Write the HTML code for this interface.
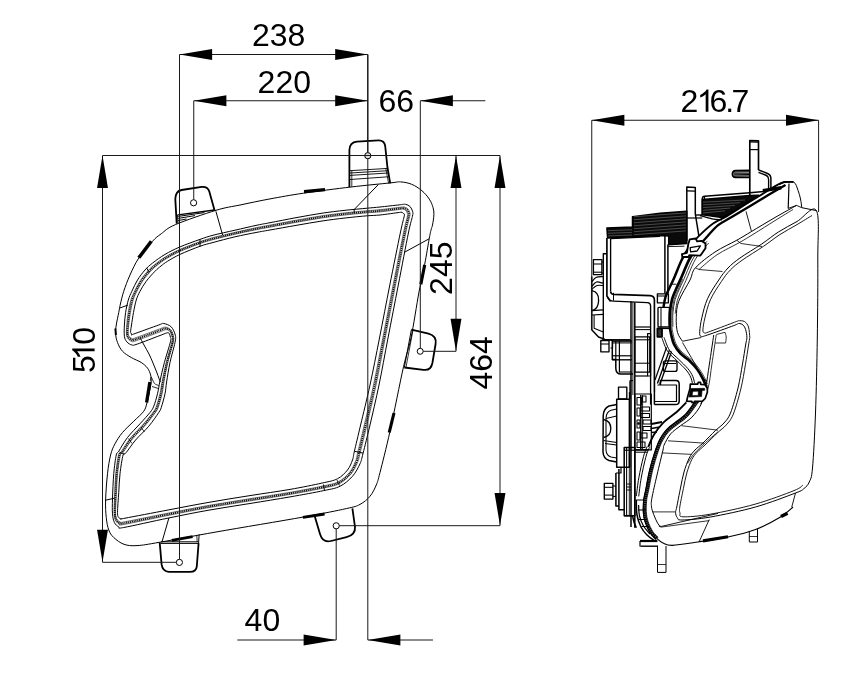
<!DOCTYPE html>
<html><head><meta charset="utf-8"><title>Headlamp dimensions</title>
<style>
html,body{margin:0;padding:0;background:#fff;}
body{width:864px;height:676px;overflow:hidden;}
svg{display:block;will-change:transform;}
text{font-family:"Liberation Sans",sans-serif;fill:#000;}
</style></head><body>
<svg width="864" height="676" viewBox="0 0 864 676" stroke-linecap="butt" stroke-linejoin="round">
<rect width="864" height="676" fill="#fff"/>
<path d="M175.4 224.6C166.28 228.51 165.07 230.97 161.25 233.75C157.43 236.53 156.25 237.19 152.5 241.25C148.75 245.31 142.5 252.48 138.75 258.1C135 263.73 132.5 269.48 130 275C127.5 280.52 125.35 286.42 123.75 291.25C122.15 296.08 121.23 300.46 120.4 304C119.57 307.54 119.44 309 118.75 312.5C118.06 316 116.78 321.46 116.25 325C115.72 328.54 115.39 330.83 115.6 333.75C115.81 336.67 116.35 339.58 117.5 342.5C118.65 345.42 120.21 348.75 122.5 351.25C124.79 353.75 128.12 355.62 131.25 357.5C134.38 359.38 138.54 360.73 141.25 362.5C143.96 364.27 145.94 366.02 147.5 368.1C149.06 370.18 150 372.6 150.6 375C151.2 377.4 151.37 379.33 151.1 382.5C150.83 385.67 149.7 390.57 149 394C148.3 397.43 147.78 400.23 146.9 403.1C146.03 405.98 145.94 408.23 143.75 411.25C141.56 414.27 137.29 417.71 133.75 421.25C130.21 424.79 125.62 428.75 122.5 432.5C119.38 436.25 116.98 440 115 443.75C113.02 447.5 111.85 450 110.6 455C109.35 460 108.33 466.25 107.5 473.75C106.67 481.25 105.81 492.71 105.6 500C105.39 507.29 105.72 512.5 106.25 517.5C106.78 522.5 107.5 526.67 108.75 530C110 533.33 111.21 535.12 113.75 537.5C116.29 539.88 120.12 542.95 124 544.3C127.88 545.65 131 545.95 137 545.6C143 545.25 146.83 544.47 160 542.2C173.17 539.93 192.08 536.2 216 532C239.92 527.8 281.79 520.9 303.5 517C325.21 513.1 336.83 510.7 346.25 508.6C355.67 506.5 356.04 506.46 360 504.4C363.96 502.34 367.29 499.48 370 496.25C372.71 493.02 374.58 488.96 376.25 485C377.92 481.04 377.71 481.46 380 472.5C382.29 463.54 386.08 448.87 390 431.25C393.92 413.63 400 382.34 403.5 366.8C407 351.26 408.42 350.47 411 338C413.58 325.53 416.72 304.28 419 292C421.28 279.72 423 273.17 424.7 264.3C426.4 255.43 428.15 244.52 429.2 238.8C430.25 233.08 430.45 232.3 431 230C431.55 227.7 432.02 227.53 432.5 225C432.98 222.47 433.82 217.73 433.9 214.8C433.98 211.87 433.77 210.02 433 207.4C432.23 204.78 431.15 201.88 429.3 199.1C427.45 196.32 424.83 193.17 421.9 190.7C418.97 188.23 415.25 185.77 411.7 184.3C408.15 182.83 404.15 182.13 400.6 181.9C397.05 181.67 398.67 182.05 390.4 182.9C382.13 183.75 365.48 185.28 351 187C336.52 188.72 317 191.22 303.5 193.2C290 195.18 280.58 196.93 270 198.9C259.42 200.87 249 203.1 240 205C231 206.9 226.77 207.03 216 210.3C205.23 213.57 184.53 220.69 175.4 224.6Z" fill="none" stroke="#000" stroke-width="1" />
<path d="M180 246.9C185.83 244.4 194.5 241.34 200 239.4C205.5 237.46 207.17 236.78 213 235.25C218.83 233.72 227.83 231.84 235 230.2C242.17 228.56 250.17 226.65 256 225.4C261.83 224.15 263.33 223.98 270 222.7C276.67 221.42 287.33 219.28 296 217.7C304.67 216.12 313.83 214.43 322 213.2C330.17 211.97 337.47 211.13 345 210.3C352.53 209.47 361.37 208.75 367.2 208.2C373.03 207.65 374.68 207.55 380 207C385.32 206.45 394.85 205.35 399.1 204.9C403.35 204.45 403.67 204.02 405.5 204.3C407.33 204.58 408.9 205.35 410.1 206.6C411.3 207.85 412.32 210.17 412.7 211.8C413.08 213.43 413.12 212.87 412.4 216.4C411.68 219.93 410.75 221.57 408.4 233C406.05 244.43 401.7 267.5 398.3 285C394.9 302.5 391.22 321.33 388 338C384.78 354.67 382 370.5 379 385C376 399.5 372.65 413.65 370 425C367.35 436.35 364.77 446.64 363.1 453.1C361.43 459.56 361.77 459.89 360 463.75C358.23 467.61 355.83 472.5 352.5 476.25C349.17 480 344.79 483.86 340 486.25C335.21 488.64 332.08 488.83 323.75 490.6C315.42 492.38 302.29 494.75 290 496.9C277.71 499.05 263.67 501.27 250 503.5C236.33 505.73 221.65 507.87 208 510.3C194.35 512.73 182.14 515.23 168.1 518.1C154.06 520.97 131.97 526.03 123.75 527.5C115.53 528.97 120.31 527.73 118.75 526.9C117.19 526.07 115.44 524.69 114.4 522.5C113.36 520.31 112.82 517.71 112.5 513.75C112.18 509.79 112.29 505.42 112.5 498.75C112.71 492.08 113.12 481.04 113.75 473.75C114.38 466.46 115.42 458.75 116.25 455C117.08 451.25 116.88 454.17 118.75 451.25C120.62 448.33 123.96 442.08 127.5 437.5C131.04 432.92 136.25 427.92 140 423.75C143.75 419.58 147.71 415.42 150 412.5C152.29 409.58 152.5 409.38 153.75 406.25C155 403.12 156.46 397.96 157.5 393.75C158.54 389.54 158.85 386.21 160 381C161.15 375.79 162.63 369.12 164.4 362.5C166.17 355.88 169.62 345.5 170.6 341.25C171.58 337 170.48 338.21 170.3 337C170.12 335.79 169.97 334.71 169.5 334C169.03 333.29 169.08 332.5 167.5 332.75C165.92 333 165 333.62 160 335.5C155 337.38 142.18 342.42 137.5 344C132.82 345.58 133.67 345.35 131.9 345C130.13 344.65 128.15 343.36 126.9 341.9C125.65 340.44 124.82 339.07 124.4 336.25C123.98 333.43 124.2 328.96 124.4 325C124.6 321.04 124.95 316.67 125.6 312.5C126.25 308.33 127.25 303.54 128.3 300C129.35 296.46 130.37 294.58 131.9 291.25C133.43 287.92 135.32 283.54 137.5 280C139.68 276.46 142.5 272.82 145 270C147.5 267.18 149.17 265.7 152.5 263.1C155.83 260.5 160.42 257.1 165 254.4C169.58 251.7 174.17 249.4 180 246.9Z" fill="none" stroke="#000" stroke-width="1" />
<path d="M180 254.4C185.42 251.9 194.5 248.23 200 246.25C205.5 244.27 207.17 244.07 213 242.5C218.83 240.93 227.83 238.47 235 236.8C242.17 235.13 250.17 233.63 256 232.5C261.83 231.37 263.33 231.18 270 230C276.67 228.82 287.33 226.9 296 225.4C304.67 223.9 313.83 222.23 322 221C330.17 219.77 337.47 218.87 345 218C352.53 217.13 361.37 216.3 367.2 215.8C373.03 215.3 374.58 215.57 380 215C385.42 214.43 396.12 212.83 399.7 212.4C403.28 211.97 400.97 212.32 401.5 212.4C402.03 212.48 402.48 212.58 402.9 212.9C403.32 213.22 403.77 213.82 404 214.3C404.23 214.78 404.92 212.68 404.3 215.8C403.68 218.92 402.72 221.47 400.3 233C397.88 244.53 393.27 267.5 389.8 285C386.33 302.5 382.8 321.33 379.5 338C376.2 354.67 373.15 370.5 370 385C366.85 399.5 363.2 413.96 360.6 425C358 436.04 355.75 445.42 354.4 451.25C353.05 457.08 353.65 456.88 352.5 460C351.35 463.12 350 466.88 347.5 470C345 473.12 341.77 476.57 337.5 478.75C333.23 480.93 329.82 481.33 321.9 483.1C313.98 484.88 301.98 487.32 290 489.4C278.02 491.48 263.67 493.42 250 495.6C236.33 497.78 221.65 500.1 208 502.5C194.35 504.9 181.93 507.38 168.1 510C154.27 512.62 132.81 516.74 125 518.2C117.19 519.66 122.29 518.87 121.25 518.75C120.21 518.63 119.38 518.54 118.75 517.5C118.12 516.46 117.5 516.67 117.5 512.5C117.5 508.33 118.33 498.96 118.75 492.5C119.17 486.04 119.28 480 120 473.75C120.72 467.5 122.06 458.54 123.1 455C124.14 451.46 124.17 455 126.25 452.5C128.33 450 131.85 444.38 135.6 440C139.35 435.62 144.89 430.83 148.75 426.25C152.61 421.67 156.67 415.62 158.75 412.5C160.83 409.38 160.21 410.62 161.25 407.5C162.29 404.38 164.11 398 165 393.75C165.89 389.5 165.77 387.21 166.6 382C167.43 376.79 168.6 369.08 170 362.5C171.4 355.92 174.12 347.08 175 342.5C175.88 337.92 175.88 337.6 175.25 335C174.62 332.4 173.17 328.82 171.25 326.9C169.33 324.98 165.83 323.82 163.75 323.5C161.67 323.18 163.75 323.25 158.75 325C153.75 326.75 138.22 332.43 133.75 334C129.28 335.57 132.38 334.57 131.9 334.4C131.43 334.23 131.12 333.52 130.9 333C130.68 332.48 130.5 332.58 130.6 331.25C130.7 329.92 131.02 328.12 131.5 325C131.98 321.88 132.71 316.67 133.5 312.5C134.29 308.33 135.17 303.54 136.25 300C137.33 296.46 138.33 294.38 140 291.25C141.67 288.12 143.75 284.58 146.25 281.25C148.75 277.92 152.54 273.79 155 271.25C157.46 268.71 158.92 267.67 161 266C163.08 264.33 164.33 263.18 167.5 261.25C170.67 259.32 174.58 256.9 180 254.4Z" fill="none" stroke="#000" stroke-width="1" />
<path d="M180 249.38C185.7 246.88 194.5 243.62 200 241.66C205.5 239.71 207.17 239.19 213 237.64C218.83 236.1 227.83 234.03 235 232.38C242.17 230.73 250.17 228.95 256 227.74C261.83 226.53 263.33 226.36 270 225.11C276.67 223.86 287.33 221.8 296 220.24C304.67 218.69 313.83 217.01 322 215.77C330.17 214.54 337.47 213.69 345 212.84C352.53 212 361.37 211.24 367.2 210.71C373.03 210.17 374.65 210.2 380 209.64C385.35 209.08 395.27 207.82 399.3 207.38C403.33 206.93 402.78 206.76 404.18 206.97C405.58 207.19 406.78 207.74 407.72 208.68C408.67 209.62 409.5 211.37 409.83 212.62C410.16 213.88 410.41 212.81 409.73 216.2C409.04 219.6 408.1 221.53 405.73 233C403.35 244.47 398.92 267.5 395.5 285C392.07 302.5 388.44 321.33 385.19 338C381.95 354.67 379.08 370.5 376.03 385C372.98 399.5 369.53 413.75 366.9 425C364.26 436.25 361.79 446.24 360.23 452.49C358.67 458.74 359.09 458.9 357.52 462.51C355.96 466.13 353.91 470.64 350.85 474.19C347.79 477.73 343.79 481.45 339.18 483.77C334.56 486.1 331.34 486.35 323.14 488.12C314.94 489.9 302.19 492.3 290 494.42C277.81 496.55 263.67 498.68 250 500.89C236.33 503.11 221.65 505.3 208 507.73C194.35 510.15 182.07 512.64 168.1 515.43C154.13 518.21 132.25 522.97 124.16 524.43C116.07 525.89 120.96 524.81 119.58 524.21C118.19 523.61 116.74 522.66 115.84 520.85C114.93 519.04 114.36 517.36 114.15 513.34C113.94 509.31 114.29 503.29 114.56 496.69C114.84 490.09 115.15 480.7 115.81 473.75C116.47 466.8 117.61 458.68 118.51 455C119.41 451.32 119.28 454.44 121.22 451.66C123.17 448.88 126.56 442.84 130.17 438.32C133.78 433.81 139.1 428.88 142.89 424.57C146.67 420.27 150.66 415.49 152.89 412.5C155.11 409.51 155.04 409.79 156.22 406.66C157.41 403.54 158.98 397.97 159.97 393.75C160.97 389.53 161.13 386.54 162.18 381.33C163.22 376.12 164.6 369.11 166.25 362.5C167.89 355.89 171.1 346.02 172.05 341.66C173 337.3 172.26 338.01 171.93 336.34C171.6 334.67 171.02 332.76 170.08 331.66C169.13 330.55 168.01 329.63 166.26 329.7C164.51 329.76 164.59 330.2 159.59 332.04C154.59 333.87 140.88 339.12 136.26 340.7C131.65 342.28 133.24 341.79 131.9 341.5C130.56 341.21 129.13 340.11 128.22 338.96C127.31 337.81 126.69 336.93 126.45 334.6C126.2 332.27 126.45 328.68 126.74 325C127.04 321.32 127.51 316.67 128.21 312.5C128.9 308.33 129.86 303.54 130.92 300C131.98 296.46 133 294.51 134.57 291.25C136.15 287.99 138.1 283.89 140.39 280.41C142.68 276.94 145.81 273.14 148.3 270.41C150.79 267.69 152.38 266.35 155.31 264.06C158.23 261.76 161.71 259.11 165.82 256.66C169.94 254.21 174.3 251.88 180 249.38Z" fill="none" stroke="#000" stroke-width="0.55" />
<path d="M180 251.47C185.58 248.97 194.5 245.55 200 243.58C205.5 241.61 207.17 241.23 213 239.67C218.83 238.11 227.83 235.88 235 234.23C242.17 232.57 250.17 230.91 256 229.73C261.83 228.55 263.33 228.38 270 227.15C276.67 225.93 287.33 223.93 296 222.4C304.67 220.86 313.83 219.19 322 217.96C330.17 216.72 337.47 215.85 345 215C352.53 214.14 361.37 213.36 367.2 212.84C373.03 212.32 374.62 212.44 380 211.88C385.38 211.32 395.62 209.91 399.47 209.47C403.31 209.04 402.02 209.08 403.06 209.24C404.1 209.4 404.99 209.76 405.71 210.44C406.43 211.12 407.1 212.39 407.39 213.33C407.68 214.26 408.11 212.75 407.46 216.03C406.8 219.31 405.85 221.51 403.46 233C401.07 244.49 396.56 267.5 393.12 285C389.67 302.5 386.08 321.33 382.81 338C379.55 354.67 376.6 370.5 373.51 385C370.42 399.5 366.89 413.84 364.27 425C361.65 436.16 359.27 445.89 357.79 451.97C356.32 458.05 356.82 458.05 355.43 461.46C354.03 464.87 352.27 469.07 349.45 472.44C346.62 475.81 342.95 479.41 338.48 481.68C334 483.94 330.7 484.25 322.62 486.03C314.54 487.8 302.1 490.22 290 492.32C277.9 494.43 263.67 496.48 250 498.68C236.33 500.88 221.65 503.13 208 505.54C194.35 507.96 182.01 510.44 168.1 513.16C154.19 515.87 132.48 520.37 124.51 521.83C116.54 523.29 121.52 522.32 120.28 521.93C119.03 521.53 117.84 520.94 117.05 519.45C116.27 517.96 115.67 517.07 115.55 512.99C115.43 508.9 115.98 501.48 116.31 494.94C116.65 488.4 116.88 480.41 117.56 473.75C118.25 467.09 119.47 458.62 120.43 455C121.39 451.38 121.32 454.68 123.33 452.01C125.33 449.35 128.77 443.48 132.44 439.02C136.11 434.57 141.52 429.7 145.34 425.27C149.15 420.85 153.17 415.54 155.34 412.5C157.5 409.46 157.2 410.14 158.32 407.01C159.45 403.89 161.12 397.98 162.07 393.75C163.03 389.52 163.07 386.82 164.03 381.61C164.98 376.4 166.27 369.1 167.82 362.5C169.36 355.9 172.37 346.47 173.28 342.01C174.2 337.56 173.77 337.84 173.32 335.78C172.87 333.72 171.92 331.11 170.57 329.67C169.22 328.22 167.1 327.2 165.21 327.11C163.32 327.01 164.24 327.3 159.24 329.1C154.24 330.89 139.77 336.33 135.21 337.9C130.66 339.47 132.88 338.77 131.9 338.53C130.92 338.3 129.96 337.36 129.34 336.47C128.72 335.58 128.28 335.11 128.18 333.2C128.08 331.29 128.36 328.45 128.73 325C129.1 321.55 129.68 316.67 130.42 312.5C131.16 308.33 132.08 303.54 133.15 300C134.22 296.46 135.23 294.46 136.84 291.25C138.46 288.04 140.46 284.18 142.84 280.76C145.21 277.35 148.63 273.41 151.1 270.76C153.57 268.11 155.11 266.9 157.69 264.87C160.26 262.84 162.81 260.81 166.53 258.58C170.24 256.35 174.42 253.97 180 251.47Z" fill="none" stroke="#000" stroke-width="0.55" />
<path d="M180 250.43C185.64 247.93 194.5 244.58 200 242.62C205.5 240.66 207.17 240.21 213 238.66C218.83 237.1 227.83 234.96 235 233.3C242.17 231.65 250.17 229.93 256 228.74C261.83 227.54 263.33 227.37 270 226.13C276.67 224.89 287.33 222.86 296 221.32C304.67 219.77 313.83 218.1 322 216.87C330.17 215.63 337.47 214.77 345 213.92C352.53 213.07 361.37 212.3 367.2 211.77C373.03 211.25 374.64 211.32 380 210.76C385.36 210.2 395.45 208.87 399.38 208.43C403.32 207.98 402.4 207.92 403.62 208.11C404.84 208.3 405.88 208.75 406.72 209.56C407.55 210.37 408.3 211.88 408.61 212.98C408.92 214.07 409.26 212.78 408.59 216.12C407.92 219.46 406.97 221.52 404.59 233C402.21 244.48 397.74 267.5 394.31 285C390.87 302.5 387.26 321.33 384 338C380.75 354.67 377.84 370.5 374.77 385C371.7 399.5 368.21 413.79 365.58 425C362.96 436.21 360.53 446.07 359.01 452.23C357.49 458.4 357.95 458.47 356.48 461.99C355 465.5 353.09 469.86 350.15 473.31C347.21 476.77 343.37 480.43 338.82 482.73C334.28 485.02 331.02 485.3 322.88 487.08C314.74 488.85 302.15 491.26 290 493.38C277.85 495.49 263.67 497.58 250 499.79C236.33 502 221.65 504.22 208 506.63C194.35 509.05 182.04 511.54 168.1 514.29C154.16 517.04 132.37 521.67 124.34 523.13C116.31 524.59 121.24 523.57 119.92 523.07C118.61 522.57 117.29 521.8 116.44 520.15C115.6 518.5 115.02 517.22 114.85 513.16C114.68 509.11 115.13 502.38 115.44 495.81C115.74 489.24 116.02 480.55 116.69 473.75C117.36 466.95 118.54 458.65 119.47 455C120.4 451.35 120.3 454.56 122.28 451.84C124.25 449.12 127.67 443.16 131.31 438.68C134.95 434.19 140.31 429.29 144.11 424.93C147.91 420.56 151.92 415.51 154.11 412.5C156.31 409.49 156.12 409.96 157.28 406.84C158.43 403.71 160.05 397.98 161.03 393.75C162 389.52 162.1 386.68 163.1 381.47C164.1 376.26 165.44 369.11 167.03 362.5C168.63 355.89 171.74 346.24 172.67 341.84C173.6 337.43 173.02 337.92 172.63 336.06C172.24 334.2 171.47 331.94 170.32 330.66C169.17 329.39 167.56 328.42 165.74 328.4C163.92 328.39 164.41 328.75 159.41 330.56C154.41 332.38 140.32 337.72 135.74 339.3C131.15 340.88 133.06 340.28 131.9 340.02C130.74 339.75 129.54 338.74 128.78 337.72C128.02 336.7 127.49 336.02 127.31 333.9C127.14 331.78 127.4 328.57 127.74 325C128.07 321.43 128.6 316.67 129.31 312.5C130.03 308.33 130.97 303.54 132.04 300C133.1 296.46 134.11 294.49 135.71 291.25C137.3 288.01 139.28 284.03 141.61 280.59C143.94 277.14 147.22 273.27 149.7 270.59C152.18 267.9 153.75 266.62 156.5 264.46C159.24 262.3 162.26 259.96 166.18 257.62C170.09 255.28 174.36 252.93 180 250.43Z" fill="none" stroke="#111" stroke-width="1.9" stroke-dasharray="1.2 0.7"/>
<path d="M215.9 211.3L222.6 235" fill="none" stroke="#000" stroke-width="1" />
<path d="M378.3 184.6L354.2 209.5L354.2 213" fill="none" stroke="#000" stroke-width="1" />
<path d="M429.1 238.8L404.6 252.2" fill="none" stroke="#000" stroke-width="1" />
<path d="M119.6 308.1L127.9 305.1" fill="none" stroke="#000" stroke-width="1" />
<path d="M105.3 500.3L114.6 498.1" fill="none" stroke="#000" stroke-width="1" />
<path d="M168.9 518L162 541.8" fill="none" stroke="#000" stroke-width="1" />
<path d="M200 239.5L200 246.8" fill="none" stroke="#000" stroke-width="1" />
<path d="M146.5 267.8L148.8 271.8" fill="none" stroke="#000" stroke-width="1" />
<path d="M323.5 484.5L324.5 491" fill="none" stroke="#000" stroke-width="1" />
<path d="M354.4 451.25L363.1 453.1" fill="none" stroke="#000" stroke-width="1" />
<path d="M337 480L339.5 485.5" fill="none" stroke="#000" stroke-width="0.8" />
<path d="M140 337.5C140.67 338.75 142.5 342.25 144 345C145.5 347.75 147.5 351 149 354C150.5 357 151.67 359.83 153 363C154.33 366.17 155.78 369.83 157 373C158.22 376.17 159.75 380.5 160.3 382" fill="none" stroke="#000" stroke-width="1" />
<path d="M150.3 381C150.45 380.33 150.5 376.58 151.2 377C151.9 377.42 153.2 382.08 154.5 383.5C155.8 384.92 158.25 385.17 159 385.5" fill="none" stroke="#000" stroke-width="0.8" />
<path d="M152 386.5L158.5 388.5" fill="none" stroke="#000" stroke-width="0.8" />
<path d="M141.5 428L144.5 432" fill="none" stroke="#000" stroke-width="0.8" />
<path d="M128.5 438.5L132 443.5" fill="none" stroke="#000" stroke-width="0.8" />
<path d="M119.5 452L124.5 454.5" fill="none" stroke="#000" stroke-width="0.8" />
<path d="M138.8 257.8L151.3 241.2" fill="none" stroke="#000" stroke-width="3.5" />
<path d="M304 191.6L325 189.6" fill="none" stroke="#000" stroke-width="3.1" />
<path d="M424.7 264.9L420.8 284.4" fill="none" stroke="#000" stroke-width="3.1" />
<path d="M394 413L389.2 432.5" fill="none" stroke="#000" stroke-width="3.1" />
<path d="M149.9 382L146.6 402.5" fill="none" stroke="#000" stroke-width="3.3" />
<path d="M302.9 517.4L324.6 514" fill="none" stroke="#000" stroke-width="2.9" />
<path d="M171.8 540.4L192.6 536.7" fill="none" stroke="#000" stroke-width="2.8" />
<path d="M115.4 328.5L115.9 335" fill="none" stroke="#000" stroke-width="2" />
<path d="M176.7 223.6L175.3 199.1Q175.5 191.2 181.5 190L201.7 186.9Q207.8 186.4 209.3 191.5L214.6 210.6" fill="none" stroke="#000" stroke-width="1.8" />
<path d="M178.1 214.8L214.6 210" fill="none" stroke="#000" stroke-width="1.3" />
<path d="M178.3 216.4L204.4 212.6" fill="none" stroke="#000" stroke-width="1" />
<path d="M178.3 218.4L195 215.6" fill="none" stroke="#000" stroke-width="1" />
<path d="M178.2 220.6L186.5 219" fill="none" stroke="#000" stroke-width="1" />
<path d="M177.6 214.5L178 223" fill="none" stroke="#000" stroke-width="1" />
<circle cx="193.6" cy="202.8" r="3.1" fill="#fff" stroke="#000" stroke-width="1"/>
<path d="M349.4 187L349.4 150Q349.6 142.2 356.9 141.6L378.5 140.4Q384.3 140.3 385.2 146L387.4 167L390.2 183.3" fill="none" stroke="#000" stroke-width="1.8" />
<path d="M350 170.7L388 168.4" fill="none" stroke="#000" stroke-width="0.9" />
<path d="M350 173L388 170.7" fill="none" stroke="#000" stroke-width="0.9" />
<path d="M350 175.4L388 173" fill="none" stroke="#000" stroke-width="0.9" />
<path d="M350 179.5L388 176.8" fill="none" stroke="#000" stroke-width="0.9" />
<path d="M351.8 170.5L351.8 186.6" fill="none" stroke="#000" stroke-width="0.8" />
<path d="M385.8 168.6L388.6 183.4" fill="none" stroke="#000" stroke-width="0.8" />
<circle cx="367.8" cy="155.7" r="3.1" fill="#ddd" stroke="#000" stroke-width="1"/>
<path d="M411.4 329.6L428.5 333.7Q436.9 336 435.6 344L432.4 363Q430.8 371 423.5 369.8L404.3 367.5" fill="none" stroke="#000" stroke-width="1.8" />
<path d="M411.4 329.6L404.3 367.5" fill="none" stroke="#000" stroke-width="1" />
<path d="M412.9 330.6L406 367.2" fill="none" stroke="#000" stroke-width="0.8" />
<circle cx="420.2" cy="351.3" r="3" fill="#fff" stroke="#000" stroke-width="1"/>
<path d="M159.7 542.7L161.6 564.4Q162.5 571.5 169 571.9L189.8 571.9Q196.3 571.6 196.8 566.3L198.6 543.1" fill="none" stroke="#000" stroke-width="1.8" />
<path d="M198.6 543.1L199.1 534.4" fill="none" stroke="#000" stroke-width="1" />
<path d="M197.2 542L196.8 535.6" fill="none" stroke="#000" stroke-width="0.8" />
<path d="M161 541.8L198.3 541.8" fill="none" stroke="#000" stroke-width="1" />
<path d="M160.5 543.4L198.5 543.4" fill="none" stroke="#000" stroke-width="1" />
<circle cx="179.4" cy="562.4" r="3.1" fill="#fff" stroke="#000" stroke-width="1"/>
<path d="M314.9 516.8L320 534Q322.8 543.2 331 541L346.5 537.2Q355.6 534.8 355 527L352.4 508.4" fill="none" stroke="#000" stroke-width="1.8" />
<circle cx="336.2" cy="525.8" r="3.1" fill="#fff" stroke="#000" stroke-width="1"/>
<path d="M816.4 210.6C812.93 204.18 803.33 217.93 797 221.5C790.67 225.07 784.27 228.25 778.4 232C772.52 235.75 768.15 239.67 761.75 244C755.35 248.33 745.62 254 740 258C734.38 262 731.54 264.33 728 268C724.46 271.67 722.17 274.88 718.75 280C715.33 285.12 710.31 292.5 707.5 298.75C704.69 305 703.19 312.08 701.9 317.5C700.61 322.92 699.93 328.12 699.75 331.25C699.57 334.38 699.51 335.68 700.8 336.3C702.09 336.93 702.01 336.78 707.5 335C712.99 333.22 728.54 327.52 733.75 325.6C738.96 323.68 737.21 323.6 738.75 323.5C740.29 323.4 741.86 324 743 325C744.14 326 744.95 327.42 745.6 329.5C746.25 331.58 746.9 334.92 746.9 337.5C746.9 340.08 746.33 340.58 745.6 345C744.87 349.42 743.77 356.83 742.5 364C741.23 371.17 740 379.83 738 388C736 396.17 732.83 407.17 730.5 413C728.17 418.83 726.5 420.08 724 423C721.5 425.92 719 427.17 715.5 430.5C712 433.83 706.42 439.75 703 443C699.58 446.25 697.29 447.5 695 450C692.71 452.5 691.08 454.33 689.25 458C687.42 461.67 685.46 467 684 472C682.54 477 681.71 482.17 680.5 488C679.29 493.83 677.57 502.92 676.75 507C675.93 511.08 675.52 510.75 675.6 512.5C675.68 514.25 676.13 516.25 677.2 517.5C678.27 518.75 676.45 520.08 682 520C687.55 519.92 698.25 519.17 710.5 517C722.75 514.83 741.33 511 755.5 507C769.67 503 787.42 496.08 795.5 493C803.58 489.92 801.71 490.33 804 488.5C806.29 486.67 807.83 485.42 809.25 482C810.67 478.58 811.46 479.5 812.5 468C813.54 456.5 814.7 434.67 815.5 413C816.3 391.33 816.92 363.5 817.3 338C817.68 312.5 817.95 281.23 817.8 260C817.65 238.77 819.87 217.02 816.4 210.6Z" fill="none" stroke="#000" stroke-width="1" />
<path d="M812 215.5C809.5 217.02 802.33 221.43 797 224.6C791.67 227.77 785.58 230.88 780 234.5C774.42 238.12 769.83 242 763.5 246.3C757.17 250.6 747.53 256.35 742 260.3C736.47 264.25 733.73 266.47 730.3 270C726.87 273.53 724.72 276.53 721.4 281.5C718.08 286.47 713.15 293.72 710.4 299.8C707.65 305.88 706.15 312.97 704.9 318C703.65 323.03 702.97 327.52 702.9 330C702.83 332.48 703.57 332.57 704.5 332.9C705.43 333.23 703.75 333.68 708.5 332C713.25 330.32 728 324.68 733 322.8C738 320.92 737.58 321.05 738.5 320.7" fill="none" stroke="#000" stroke-width="0.9" />
<path d="M749.8 337.5C749.57 338.92 749.13 341.45 748.4 346C747.67 350.55 746.67 357.63 745.4 364.8C744.13 371.97 742.83 380.73 740.8 389C738.77 397.27 735.67 408.37 733.2 414.4C730.73 420.43 728.62 422.13 726 425.2C723.38 428.27 721 429.5 717.5 432.8C714 436.1 708.37 441.8 705 445C701.63 448.2 699.5 449.58 697.3 452C695.1 454.42 693.55 456 691.8 459.5C690.05 463 688.2 468.15 686.8 473C685.4 477.85 684.57 482.93 683.4 488.6C682.23 494.27 680.37 502.93 679.8 507C679.23 511.07 679.47 511.37 680 513C680.53 514.63 677.95 516.6 683 516.8C688.05 517 698.3 516.3 710.3 514.2C722.3 512.1 741.05 508.13 755 504.2C768.95 500.27 786 493.8 794 490.6C802 487.4 801.5 485.93 803 485" fill="none" stroke="#000" stroke-width="0.9" />
<path d="M738.5 320.7C739.5 320.83 742.83 320.45 744.5 321.5C746.17 322.55 747.62 324.33 748.5 327C749.38 329.67 749.58 335.75 749.8 337.5" fill="none" stroke="#000" stroke-width="0.9" />
<path d="M796.5 205.4C792.92 207.42 782.5 213.15 775 217.5C767.5 221.85 757.88 227.71 751.5 231.5C745.12 235.29 742.83 236.83 736.75 240.25C730.67 243.67 721.88 247.42 715 252C708.12 256.58 699.67 263.08 695.5 267.75C691.33 272.42 692.79 274.42 690 280C687.21 285.58 681.04 295 678.75 301.25C676.46 307.5 676.46 312.29 676.25 317.5C676.04 322.71 676.46 328.54 677.5 332.5C678.54 336.46 681.67 339.79 682.5 341.25" fill="none" stroke="#000" stroke-width="1" />
<path d="M793 209.5C790 211.35 781.5 216.55 775 220.6C768.5 224.65 760 230.1 754 233.8C748 237.5 745.17 239.3 739 242.8C732.83 246.3 723.67 250.35 717 254.8C710.33 259.25 702 267.05 699 269.5" fill="none" stroke="#000" stroke-width="0.8" />
<path d="M699 269.5L722.5 271.5" fill="none" stroke="#000" stroke-width="0.8" />
<path d="M695.5 267.75L699 269.5" fill="none" stroke="#000" stroke-width="0.8" />
<path d="M736.75 240.25L741 243.5L762 246.5" fill="none" stroke="#000" stroke-width="0.8" />
<path d="M751.5 231.5L746 211.4" fill="none" stroke="#000" stroke-width="0.9" />
<path d="M789 183.5L788.2 208.4" fill="none" stroke="#000" stroke-width="1.2" />
<path d="M788.2 208.4L796.5 205.4L801.8 207.7" fill="none" stroke="#000" stroke-width="0.9" />
<path d="M801.8 207.7L816.4 210.6" fill="none" stroke="#000" stroke-width="1" />
<path d="M713.75 335C713.02 339.83 710.76 355.17 709.4 364C708.04 372.83 706.98 381.28 705.6 388C704.22 394.72 703.38 399.43 701.1 404.3C698.82 409.17 695.3 413.65 691.9 417.2C688.5 420.75 684.25 422.82 680.7 425.6C677.15 428.38 673.37 430.67 670.6 433.9C667.83 437.13 665.37 442.32 664.1 445C662.83 447.68 664.18 445 663 450C661.82 455 658.85 466.98 657 475C655.15 483.02 652.83 493 651.9 498.1C650.97 503.2 651.25 503.28 651.4 505.6C651.55 507.92 651.87 509.27 652.8 512C653.73 514.73 655.72 519.5 657 522C658.28 524.5 659.92 526.17 660.5 527" fill="none" stroke="#000" stroke-width="1" />
<path d="M716.2 335C715.48 339.83 713.27 355.07 711.9 364C710.53 372.93 709.92 381.87 708 388.6C706.08 395.33 701.67 401.77 700.4 404.4" fill="none" stroke="#000" stroke-width="0.8" />
<path d="M716.25 334.5L725 332.3" fill="none" stroke="#000" stroke-width="0.8" />
<path d="M725 332.3C725.2 333.08 726.1 335.22 726.2 337C726.3 338.78 725.7 342 725.6 343" fill="none" stroke="#000" stroke-width="0.8" />
<path d="M725.6 343L715.3 343" fill="none" stroke="#000" stroke-width="0.8" />
<path d="M682.5 341.25L701.25 337.5" fill="none" stroke="#000" stroke-width="0.9" />
<path d="M682.5 342.5C683.42 344.08 685.92 348.42 688 352C690.08 355.58 692.75 359.83 695 364C697.25 368.17 699.47 374.17 701.5 377C703.53 379.83 706.25 380.33 707.2 381" fill="none" stroke="#000" stroke-width="0.9" />
<path d="M681.5 425.7L718 430.2" fill="none" stroke="#000" stroke-width="0.8" />
<path d="M668 440.8L704.1 443.1" fill="none" stroke="#000" stroke-width="0.8" />
<path d="M661.9 452.9L692.1 454.4" fill="none" stroke="#000" stroke-width="0.8" />
<path d="M718 431.8C715.68 433.8 708.17 440.03 704.1 443.8C700.03 447.57 696.37 451.13 693.6 454.4C690.83 457.67 688.52 461.9 687.5 463.4" fill="none" stroke="#000" stroke-width="0.8" />
<path d="M652.9 511.9L675.5 511.9" fill="none" stroke="#000" stroke-width="0.8" />
<path d="M658.9 526.3L661.9 526.3L718 513.4" fill="none" stroke="#000" stroke-width="0.9" />
<path d="M660.5 527.2L709.25 520.6" fill="none" stroke="#000" stroke-width="0.8" />
<path d="M709.25 519.5L699.25 541.5" fill="none" stroke="#000" stroke-width="0.9" />
<path d="M795.5 493L791.75 507" fill="none" stroke="#000" stroke-width="0.9" />
<path d="M651.3 532.3C652.25 533.35 655.05 536.82 657 538.6C658.95 540.38 660.42 541.88 663 543C665.58 544.12 666.67 545.47 672.5 545.3C678.33 545.13 688.75 543.38 698 542C707.25 540.62 718.42 539.08 728 537C737.58 534.92 746.75 532.83 755.5 529.5C764.25 526.17 774.25 520.75 780.5 517C786.75 513.25 790.92 508.67 793 507" fill="none" stroke="#000" stroke-width="1.2" />
<path d="M703 540.9L728 536.7" fill="none" stroke="#000" stroke-width="3.1" />
<path d="M781 516.5L787.5 513.2" fill="none" stroke="#000" stroke-width="3.5" />
<path d="M657.5 545.5L657.5 572.4L666 572.4L666 546" fill="none" stroke="#000" stroke-width="1" />
<path d="M657.5 564.5L666 564.5" fill="none" stroke="#000" stroke-width="0.8" />
<path d="M749.3 531L749.3 542L757.5 542L757.5 528.8" fill="none" stroke="#000" stroke-width="1" />
<path d="M749.3 536.5L757.5 536.5" fill="none" stroke="#000" stroke-width="0.8" />
<path d="M640 541L657.4 541" fill="none" stroke="#000" stroke-width="2.2" />
<path d="M640.5 546.2L657.4 546.2" fill="none" stroke="#000" stroke-width="1.4" />
<path d="M640 541L640 546.5" fill="none" stroke="#000" stroke-width="1.2" />
<path d="M793.5 182C791.48 182.13 786.23 181 781.4 182.8C776.57 184.6 770.5 189.18 764.5 192.8C758.5 196.42 751.65 200.62 745.4 204.5C739.15 208.38 732.38 212.93 727 216.1C721.62 219.27 717.72 220.25 713.1 223.5C708.48 226.75 703.15 231.85 699.3 235.6C695.45 239.35 691.55 244.27 690 246" fill="none" stroke="#000" stroke-width="1.8" />
<path d="M690 246C688.63 248.3 684.47 254.42 681.8 259.8C679.13 265.18 676.07 273.6 674 278.3C671.93 283 670.82 284.88 669.4 288C667.98 291.12 666.48 293.83 665.5 297C664.52 300.17 663.83 305.33 663.5 307" fill="none" stroke="#000" stroke-width="2.5" />
<path d="M670.2 284.2L676.5 284.2" fill="none" stroke="#000" stroke-width="0.9" />
<path d="M661.99 338.23C662.92 340.41 665.08 347.55 667.58 351.31C670.09 355.07 673.93 357.66 677.02 360.78C680.12 363.89 683.87 367.27 686.15 370C688.44 372.74 689.66 374.94 690.7 377.17C691.75 379.4 692.15 382.36 692.44 383.4" fill="none" stroke="#000" stroke-width="1" />
<path d="M664.01 337.37C664.91 339.49 666.99 346.45 669.42 350.09C671.84 353.73 675.51 356.14 678.58 359.22C681.65 362.31 685.49 365.76 687.85 368.6C690.2 371.43 691.58 373.86 692.7 376.23C693.81 378.6 694.25 381.71 694.56 382.8" fill="none" stroke="#000" stroke-width="1" />
<path d="M686.3 402.4C684.75 403.95 680.87 408.3 677 411.7C673.13 415.1 666.95 418.95 663.1 422.8C659.25 426.65 656.37 430.78 653.9 434.8C651.43 438.82 649.23 444.88 648.3 446.9" fill="none" stroke="#000" stroke-width="1.9" />
<path d="M647.17 446.49C646.55 448.19 644.83 451.47 643.44 456.69C642.05 461.91 640.01 471.21 638.82 477.79C637.63 484.36 636.73 493.08 636.31 496.14" fill="none" stroke="#000" stroke-width="1" />
<path d="M649.43 447.31C648.82 448.98 647.13 452.16 645.76 457.31C644.39 462.46 642.36 471.69 641.18 478.21C640 484.74 639.1 493.42 638.69 496.46" fill="none" stroke="#000" stroke-width="1" />
<path d="M636.1 500L645.5 500" fill="none" stroke="#000" stroke-width="1" />
<path d="M785.5 185C782.7 186.63 774.58 191.32 768.7 194.8C762.82 198.28 756.37 202.2 750.2 205.9C744.03 209.6 737.1 213.75 731.7 217C726.3 220.25 722.28 221.68 717.8 225.4C713.32 229.12 708.43 235.37 704.8 239.3C701.17 243.23 697.47 247.38 696 249" fill="none" stroke="#000" stroke-width="2.3" />
<path d="M696 249C694.83 250.8 691.5 254.92 689 259.8C686.5 264.68 683 273.77 681 278.3C679 282.83 678.47 283.57 677 287C675.53 290.43 673.38 294.6 672.2 298.9C671.02 303.2 670.28 308.17 669.9 312.8C669.52 317.43 669.67 323 669.9 326.7C670.13 330.4 670.6 332.07 671.3 335C672 337.93 672.55 341.22 674.1 344.3C675.65 347.38 677.98 350.73 680.6 353.5C683.22 356.27 687.03 358.27 689.8 360.9C692.57 363.53 695.03 366.37 697.2 369.3C699.37 372.23 701.4 375.88 702.8 378.5C704.2 381.12 705.13 383.92 705.6 385" fill="none" stroke="#000" stroke-width="2.7" />
<path d="M705.6 385C705.42 386.08 706.17 388.45 704.5 391.5C702.83 394.55 698.63 399.32 695.6 403.3C692.57 407.28 689.4 412.15 686.3 415.4C683.2 418.65 680.08 420.33 677 422.8C673.92 425.27 670.42 427.43 667.8 430.2C665.18 432.97 663.15 436 661.3 439.4C659.45 442.8 658.42 445.5 656.7 450.6C654.98 455.7 652.62 463.43 651 470C649.38 476.57 648 485 647 490C646 495 645.4 496.33 645 500C644.6 503.67 644.35 508.33 644.6 512C644.85 515.67 645.38 518.62 646.5 522C647.62 525.38 649.55 529.53 651.3 532.3C653.05 535.07 656.05 537.55 657 538.6" fill="none" stroke="#666" stroke-width="3.2" />
<path d="M705.6 385C705.42 386.08 706.17 388.45 704.5 391.5C702.83 394.55 698.63 399.32 695.6 403.3C692.57 407.28 689.4 412.15 686.3 415.4C683.2 418.65 680.08 420.33 677 422.8C673.92 425.27 670.42 427.43 667.8 430.2C665.18 432.97 663.15 436 661.3 439.4C659.45 442.8 658.42 445.5 656.7 450.6C654.98 455.7 652.62 463.43 651 470C649.38 476.57 648 485 647 490C646 495 645.4 496.33 645 500C644.6 503.67 644.35 508.33 644.6 512C644.85 515.67 645.38 518.62 646.5 522C647.62 525.38 649.55 529.53 651.3 532.3C653.05 535.07 656.05 537.55 657 538.6" fill="none" stroke="#000" stroke-width="3.2" stroke-dasharray="1.4 0.7"/>
<path d="M704.32 384.78C704.16 385.8 704.98 387.92 703.36 390.88C701.73 393.83 697.57 398.57 694.57 402.51C691.57 406.45 688.42 411.29 685.36 414.5C682.3 417.71 679.27 419.32 676.19 421.78C673.1 424.25 669.53 426.47 666.86 429.31C664.18 432.14 662.06 435.3 660.16 438.78C658.26 442.26 657.2 445.03 655.47 450.19C653.73 455.34 651.36 463.1 649.74 469.69C648.11 476.28 646.73 484.72 645.73 489.75C644.72 494.77 644.11 496.14 643.71 499.86C643.3 503.58 643.04 508.33 643.3 512.09C643.56 515.85 644.12 518.92 645.27 522.41C646.42 525.89 648.41 530.15 650.2 532.99C652 535.84 655.06 538.39 656.04 539.47" fill="none" stroke="#000" stroke-width="1.2" />
<path d="M707.28 385.28C707.06 386.46 707.71 389.14 705.99 392.32C704.27 395.49 700.03 400.29 696.95 404.33C693.88 408.37 690.68 413.27 687.53 416.57C684.38 419.87 681.14 421.66 678.06 424.13C674.98 426.59 671.58 428.69 669.04 431.37C666.49 434.05 664.58 436.92 662.79 440.21C661.01 443.51 660 446.11 658.31 451.14C656.62 456.17 654.26 463.87 652.65 470.41C651.04 476.94 649.66 485.37 648.67 490.33C647.67 495.3 647.09 496.59 646.69 500.18C646.29 503.78 646.06 508.34 646.3 511.88C646.53 515.43 647.04 518.22 648.11 521.47C649.19 524.72 651.05 528.73 652.74 531.39C654.43 534.06 657.34 536.45 658.26 537.46" fill="none" stroke="#000" stroke-width="0.7" />
<path d="M682.82 279.14C682.15 280.58 680.29 284.4 678.84 287.79C677.39 291.17 675.29 295.23 674.13 299.43C672.97 303.63 672.27 308.44 671.89 312.96C671.52 317.49 671.67 322.98 671.9 326.57C672.12 330.17 672.58 331.73 673.25 334.54C673.91 337.34 674.42 340.47 675.89 343.4C677.35 346.33 679.5 349.45 682.05 352.13C684.6 354.8 688.39 356.79 691.18 359.45C693.97 362.12 696.58 365.09 698.81 368.11C701.04 371.13 703.13 374.87 704.56 377.56C706 380.24 706.96 383.1 707.44 384.21" fill="none" stroke="#000" stroke-width="0.7" />
<path d="M707.02 241.32C705.58 242.9 700.93 247.52 698.38 250.83C695.82 254.14 694.11 256.39 691.67 261.17C689.23 265.95 685.73 275.01 683.74 279.51C681.76 284.01 681.2 284.81 679.76 288.18C678.32 291.54 676.24 295.55 675.09 299.7C673.95 303.84 673.26 308.55 672.89 313.05C672.52 317.55 672.9 324.42 672.9 326.7" fill="none" stroke="#000" stroke-width="0.8" />
<path d="M708.8 242.93C707.38 244.49 702.78 249.07 700.28 252.3C697.78 255.52 696.2 257.56 693.81 262.26C691.42 266.96 687.91 276 685.94 280.48C683.97 284.96 683.39 285.81 681.97 289.12C680.54 292.43 678.53 296.24 677.41 300.33C676.28 304.43 675.59 311.46 675.23 313.68" fill="none" stroke="#000" stroke-width="0.8" />
<path d="M781.4 182.8C783.42 182.67 790.73 180.75 793.5 182C796.27 183.25 796.83 187.47 798 190.3C799.17 193.13 799.87 196.1 800.5 199C801.13 201.9 801.58 206.25 801.8 207.7" fill="none" stroke="#000" stroke-width="1" />
<path d="M762.8 190.6L781.2 187.8" fill="none" stroke="#000" stroke-width="3.4" />
<path d="M779 184.5L784.5 181.8L793 181.8" fill="none" stroke="#000" stroke-width="1.6" />
<path d="M689.7 239.4L695.7 238.5L697.1 241.3L701.3 240.8L705.5 243.6L705.5 248.2L700.4 255.6L689.3 255.1L688.3 257L682.3 257L681.9 254.2L686.9 252.8L688.3 244Z" fill="#fff" stroke="#000" stroke-width="1.8" />
<path d="M690.2 247.7L700.4 245.9L697.1 251L690.6 251.9Z" fill="#fff" stroke="#000" stroke-width="1.3" />
<path d="M690.3 384.2L697.6 384.2L698.2 382.4L700.5 382.4L700.8 384.4L704.8 384.6L707.2 388L707.4 392L705.2 398.5L702.5 401.2L694.5 401.4L694.3 402.6L692 402.6L691.8 401.4L686.6 401.2L687.6 397L690 388.5Z" fill="#fff" stroke="#000" stroke-width="1.7" />
<path d="M692.8 391.4L698.2 391.2L698.2 395.6L692 395.8Z" fill="#fff" stroke="#000" stroke-width="1.3" />
<path d="M690.6 388.6L704.6 388.3L704.8 390.3L702 390.6L701.6 396.6L689 397Z" fill="#000" stroke="#000" stroke-width="0.6" />
<path d="M692.8 391.4L698.2 391.2L698.2 395.4L692.2 395.6Z" fill="#fff" stroke="#000" stroke-width="0.5" />
<path d="M606.9 228L632.5 227.1L632.5 216.8L660 213.2L686.8 211.3L686.8 243.6L668.7 244.8L668.7 236L660.4 235.4L607.6 238Z" fill="#0a0a0a" stroke="#000" stroke-width="1.5" />
<path d="M634 216.7L686 212.9" fill="none" stroke="#999" stroke-width="0.45" />
<path d="M634 219.7L686 215.9" fill="none" stroke="#999" stroke-width="0.45" />
<path d="M634 222.7L686 218.9" fill="none" stroke="#999" stroke-width="0.45" />
<path d="M634 225.7L686 221.9" fill="none" stroke="#999" stroke-width="0.45" />
<path d="M634 228.7L686 224.9" fill="none" stroke="#999" stroke-width="0.45" />
<path d="M634 231.7L686 227.9" fill="none" stroke="#999" stroke-width="0.45" />
<path d="M634 234.7L686 230.9" fill="none" stroke="#999" stroke-width="0.45" />
<path d="M608 230.7L632 229.8" fill="none" stroke="#999" stroke-width="0.45" />
<path d="M608 233.3L632 232.4" fill="none" stroke="#999" stroke-width="0.45" />
<path d="M608 235.9L632 235" fill="none" stroke="#999" stroke-width="0.45" />
<path d="M702.3 199.6L749.8 195.6L758.6 195.2L745.2 203.9L729.5 214L722 217.5L702.3 214.8Z" fill="#0a0a0a" stroke="#000" stroke-width="1.5" />
<path d="M703 202.2L745 200" fill="none" stroke="#999" stroke-width="0.45" />
<path d="M703 204.9L740 202.7" fill="none" stroke="#999" stroke-width="0.45" />
<path d="M703 207.6L735 205.4" fill="none" stroke="#999" stroke-width="0.45" />
<path d="M703 210.3L730 208.1" fill="none" stroke="#999" stroke-width="0.45" />
<path d="M703 213L725 210.8" fill="none" stroke="#999" stroke-width="0.45" />
<path d="M702.3 214.8L702.3 199Q702.3 196.6 704.5 196.3L749.8 192.7" fill="none" stroke="#000" stroke-width="1.5" />
<path d="M704.5 196.3L704.5 199.4" fill="none" stroke="#000" stroke-width="1.2" />
<path d="M749.8 192.7L764 191.6" fill="none" stroke="#000" stroke-width="1.5" />
<path d="M700 215.5C702 216.05 708.33 218.08 712 218.8C715.67 219.52 720.33 219.63 722 219.8" fill="none" stroke="#000" stroke-width="1.35" />
<path d="M695 215L702.3 215" fill="none" stroke="#000" stroke-width="1.35" />
<path d="M686.8 218L702.3 218" fill="none" stroke="#000" stroke-width="1.2" />
<path d="M686.8 241L686.8 187L695.3 187.4L695.3 214L698.9 236.2" fill="none" stroke="#000" stroke-width="1.5" />
<path d="M686.8 190.8L695.3 191.2" fill="none" stroke="#000" stroke-width="1.2" />
<path d="M749.8 195.6L749.8 140.6L758.5 140.9L758.5 170" fill="none" stroke="#000" stroke-width="1.65" />
<path d="M749.8 142L758.5 142.3" fill="none" stroke="#000" stroke-width="1.05" />
<path d="M749.8 149.6L758.5 149.6" fill="none" stroke="#000" stroke-width="1.2" />
<path d="M758.5 170L767 173.2Q770.9 174.6 770.9 178.5L770.9 188.8" fill="none" stroke="#000" stroke-width="1.5" />
<path d="M758.5 172.4L765.4 175Q768.6 176.2 768.6 180L768.6 189" fill="none" stroke="#000" stroke-width="1.35" />
<path d="M749.8 170.4L735.5 170.6Q732.4 170.8 732.4 174Q732.4 177.3 735.5 177.5L749.8 177.5" fill="none" stroke="#000" stroke-width="1.65" />
<path d="M733.5 171.9L749.8 171.8" fill="none" stroke="#000" stroke-width="1.05" />
<path d="M733.5 173.3L749.8 173.2" fill="none" stroke="#000" stroke-width="1.05" />
<path d="M733.5 174.7L749.8 174.6" fill="none" stroke="#000" stroke-width="1.05" />
<path d="M733.5 176.1L749.8 176" fill="none" stroke="#000" stroke-width="1.05" />
<path d="M606.9 238L606.9 296L610.6 301.5" fill="none" stroke="#000" stroke-width="1.65" />
<path d="M610.6 238.5L610.6 291.5" fill="none" stroke="#000" stroke-width="1.35" />
<path d="M664.9 236L664.9 293.5" fill="none" stroke="#000" stroke-width="1.5" />
<path d="M667.9 244.5L667.9 293.5" fill="none" stroke="#000" stroke-width="1.5" />
<path d="M668 246.6L684.5 246.2" fill="none" stroke="#000" stroke-width="0.9" />
<path d="M610.6 238.6L660 236.4" fill="none" stroke="#000" stroke-width="1.2" />
<path d="M610.6 291.5Q610.8 294.2 613.5 294.4L650 295.6Q654.4 295.8 654.4 300L654.4 392" fill="none" stroke="#000" stroke-width="1.65" />
<path d="M607.5 297.5Q609.5 301 613.5 301.2L647.5 302.6Q650.6 302.8 650.6 306L650.6 392" fill="none" stroke="#000" stroke-width="1.35" />
<path d="M613.5 292.8L613.5 300.5" fill="none" stroke="#000" stroke-width="1.05" />
<rect x="657.4" y="293.8" width="11" height="9" rx="0" fill="none" stroke="#000" stroke-width="1.35"/>
<path d="M657.4 296L665 296" fill="none" stroke="#000" stroke-width="1.05" />
<path d="M603.3 338.6L603.3 253.7L606.6 253.7" fill="none" stroke="#000" stroke-width="1.35" />
<rect x="593.4" y="259.6" width="8.5" height="15" rx="0" fill="none" stroke="#000" stroke-width="1.35"/>
<path d="M593.4 264L601.9 264" fill="none" stroke="#000" stroke-width="1.05" />
<path d="M593.4 272.2L601.9 272.2" fill="none" stroke="#000" stroke-width="1.05" />
<path d="M601.9 262L603.3 262" fill="none" stroke="#000" stroke-width="1.05" />
<path d="M601.9 273L603.3 273" fill="none" stroke="#000" stroke-width="1.05" />
<path d="M591.7 276.5L591.7 329.8L598.5 337L605 339.4" fill="none" stroke="#000" stroke-width="1.5" />
<path d="M591.9 281.8C592.58 281.08 594.15 278.37 596 277.5C597.85 276.63 601.83 276.75 603 276.6" fill="none" stroke="#000" stroke-width="1.35" />
<path d="M591.9 286.2C592.67 285.5 594.65 282.5 596.5 282C598.35 281.5 601.92 283 603 283.2" fill="none" stroke="#000" stroke-width="1.2" />
<path d="M591.9 289.2C592.75 288.6 595.1 286.22 597 285.6C598.9 284.98 602.25 285.52 603.3 285.5" fill="none" stroke="#000" stroke-width="1.05" />
<path d="M591.9 290.6Q599 292 598.6 300.4Q598.6 308.6 591.9 310.6" fill="none" stroke="#000" stroke-width="1.35" />
<path d="M591.9 310.6L603.3 309.8" fill="none" stroke="#000" stroke-width="1.2" />
<path d="M591.9 315L603.3 314.3" fill="none" stroke="#000" stroke-width="1.2" />
<path d="M594.1 315L594.1 328.3L603.3 332" fill="none" stroke="#000" stroke-width="1.05" />
<rect x="600.8" y="340.5" width="8.2" height="11.3" rx="0" fill="none" stroke="#000" stroke-width="1.35"/>
<path d="M600.8 344L609 344" fill="none" stroke="#000" stroke-width="1.05" />
<path d="M603.8 339.8L612 339.8" fill="none" stroke="#000" stroke-width="1.2" />
<path d="M612.3 341L612.3 359.6L615.8 359.6L615.8 368Q615.8 374 621 374.1L633 374.1" fill="none" stroke="#000" stroke-width="1.5" />
<path d="M615.8 341L615.8 359.6" fill="none" stroke="#000" stroke-width="1.2" />
<path d="M619.4 341L619.4 372.5" fill="none" stroke="#000" stroke-width="1.2" />
<path d="M612.3 341L631.8 341" fill="none" stroke="#000" stroke-width="1.65" />
<path d="M612.3 342.9L631.8 342.9" fill="none" stroke="#000" stroke-width="1.05" />
<path d="M612.3 355.8L631.8 355.8" fill="none" stroke="#000" stroke-width="1.2" />
<path d="M612.3 359.8L631.8 359.8" fill="none" stroke="#000" stroke-width="1.35" />
<path d="M619.4 372L631.8 372" fill="none" stroke="#000" stroke-width="1.05" />
<path d="M610.5 340.4L612.6 340.4L612.6 348L610.5 348" fill="none" stroke="#000" stroke-width="1.05" />
<path d="M602.2 339.8L630.6 339.8" fill="none" stroke="#000" stroke-width="1.5" />
<rect x="618.5" y="387.1" width="8.3" height="11.9" rx="0" fill="none" stroke="#000" stroke-width="1.35"/>
<path d="M630 380.6L633 380.6" fill="none" stroke="#000" stroke-width="1.2" />
<path d="M630 380.6L630 399" fill="none" stroke="#000" stroke-width="1.35" />
<path d="M631 301.3L631 527" fill="none" stroke="#000" stroke-width="1.5" />
<path d="M634.8 302.5L634.8 527.8" fill="none" stroke="#000" stroke-width="1.5" />
<path d="M632.9 302L632.9 395" fill="none" stroke="#000" stroke-width="0.9" />
<rect x="634.8" y="336.8" width="15" height="35.4" rx="0" fill="none" stroke="#000" stroke-width="1.35"/>
<path d="M634.8 339.8L649.8 339.8" fill="none" stroke="#000" stroke-width="1.05" />
<path d="M634.8 363.2L649.8 363.2" fill="none" stroke="#000" stroke-width="1.05" />
<rect x="647.6" y="333.7" width="3" height="42.3" rx="0" fill="none" stroke="#000" stroke-width="1.2"/>
<path d="M634.8 327L650.6 327" fill="none" stroke="#000" stroke-width="1.2" />
<path d="M634.8 329.6L650.6 329.6" fill="none" stroke="#000" stroke-width="1.05" />
<path d="M634.8 376L647.6 376" fill="none" stroke="#000" stroke-width="1.2" />
<rect x="658" y="307.3" width="11.4" height="19.7" rx="1" fill="none" stroke="#000" stroke-width="1.35"/>
<path d="M661 307.3L661 327" fill="none" stroke="#000" stroke-width="1.05" />
<rect x="657.4" y="328.5" width="4.6" height="8.3" rx="0" fill="#333" stroke="#000" stroke-width="1.8"/>
<path d="M662 328.5L670 328.5" fill="none" stroke="#000" stroke-width="1.2" />
<path d="M669.4 350.3L657.4 383.5" fill="none" stroke="#000" stroke-width="1.35" />
<path d="M671.6 351.6L659.8 384.5" fill="none" stroke="#000" stroke-width="1.35" />
<path d="M666.5 347.5L655 380" fill="none" stroke="#000" stroke-width="1.2" />
<rect x="663.4" y="360.9" width="13.6" height="10.5" rx="2" fill="none" stroke="#000" stroke-width="1.35"/>
<path d="M664.5 363.5L676 363.5" fill="none" stroke="#000" stroke-width="1.05" />
<path d="M660.4 385L660.4 380.5L676 380.5Q679.2 380.5 679.2 384L679.2 401Q679.2 404.6 675.5 404.6L654.4 404.6" fill="none" stroke="#000" stroke-width="1.5" />
<path d="M657.5 385L676.5 385L676.5 401.5L654.4 401.5" fill="none" stroke="#000" stroke-width="1.2" />
<path d="M654.4 392L654.4 404.6" fill="none" stroke="#000" stroke-width="1.5" />
<path d="M650.6 392L650.6 404.6" fill="none" stroke="#000" stroke-width="1.35" />
<path d="M616.7 404.6L609 406Q603.4 408.5 603.2 416L603 452Q603.4 458.5 609 460.5L616.7 462" fill="none" stroke="#000" stroke-width="1.5" />
<path d="M616.7 409L611 410.2Q606.2 412 606 418L606 450Q606.3 455.5 611 457L616.7 458" fill="none" stroke="#000" stroke-width="1.05" />
<path d="M603.6 419.5Q610.8 421 610.8 428.5Q610.8 436 603.6 437.5" fill="none" stroke="#000" stroke-width="1.35" />
<path d="M603.3 440.5L616.7 442.5" fill="none" stroke="#000" stroke-width="1.2" />
<path d="M605 443.4L616.7 445" fill="none" stroke="#000" stroke-width="1.05" />
<path d="M606 418.5L616.7 416" fill="none" stroke="#000" stroke-width="1.05" />
<rect x="616.7" y="399.3" width="12.8" height="67.9" rx="0" fill="none" stroke="#000" stroke-width="1.5"/>
<path d="M629.5 392L629.5 467" fill="none" stroke="#000" stroke-width="1.35" />
<rect x="634.8" y="394" width="16.5" height="55.9" rx="0" fill="none" stroke="#000" stroke-width="1.2"/>
<rect x="637" y="397.5" width="4.5" height="7.5" rx="0" fill="none" stroke="#000" stroke-width="1.05"/>
<rect x="642.5" y="396" width="3.5" height="6" rx="0" fill="none" stroke="#000" stroke-width="1.05"/>
<rect x="637" y="408" width="3" height="8" rx="0" fill="none" stroke="#000" stroke-width="1.05"/>
<rect x="641" y="407" width="8.5" height="4" rx="0" fill="none" stroke="#000" stroke-width="1.05"/>
<rect x="641" y="413.5" width="8.5" height="4" rx="0" fill="none" stroke="#000" stroke-width="1.05"/>
<rect x="637" y="420" width="3" height="8" rx="0" fill="none" stroke="#000" stroke-width="1.05"/>
<rect x="643" y="420" width="8" height="4" rx="0" fill="none" stroke="#000" stroke-width="1.05"/>
<rect x="643" y="426.5" width="8" height="4" rx="0" fill="none" stroke="#000" stroke-width="1.05"/>
<rect x="637" y="432" width="3" height="8" rx="0" fill="none" stroke="#000" stroke-width="1.05"/>
<rect x="641" y="433" width="6" height="5" rx="0" fill="none" stroke="#000" stroke-width="1.05"/>
<rect x="637" y="442" width="8" height="5.5" rx="0" fill="none" stroke="#000" stroke-width="1.05"/>
<path d="M640.8 395L640.8 449" fill="none" stroke="#000" stroke-width="1.5" />
<path d="M642.6 395L642.6 449" fill="none" stroke="#000" stroke-width="0.9" />
<circle cx="638.6" cy="423.5" r="1.1" fill="#000" stroke="#000" stroke-width="0.6"/>
<path d="M651.3 424L662 422" fill="none" stroke="#000" stroke-width="1.95" />
<path d="M651.3 428.5L660 427" fill="none" stroke="#000" stroke-width="1.65" />
<path d="M651.3 432.5L657 432" fill="none" stroke="#000" stroke-width="1.5" />
<path d="M634.8 449.9L648 449.9" fill="none" stroke="#000" stroke-width="1.5" />
<path d="M634.8 452.2L647 452.2" fill="none" stroke="#000" stroke-width="1.05" />
<rect x="624.2" y="447.6" width="10.6" height="68.1" rx="0" fill="none" stroke="#000" stroke-width="1.5"/>
<path d="M626.6 447.6L626.6 515" fill="none" stroke="#000" stroke-width="1.05" />
<path d="M629.3 452L629.3 515" fill="none" stroke="#000" stroke-width="0.9" />
<path d="M624.2 450.2L634.8 450.2" fill="none" stroke="#000" stroke-width="1.2" />
<path d="M626.6 484L631 484" fill="none" stroke="#000" stroke-width="0.9" />
<path d="M626.6 487L631 487" fill="none" stroke="#000" stroke-width="0.9" />
<path d="M626.6 490L631 490" fill="none" stroke="#000" stroke-width="0.9" />
<path d="M615.9 473L615.9 505.9L618.9 505.9" fill="none" stroke="#000" stroke-width="1.5" />
<path d="M618.9 469L618.9 509.7L624.2 509.7" fill="none" stroke="#000" stroke-width="1.5" />
<path d="M621 467.2L621 473L615.9 473" fill="none" stroke="#000" stroke-width="1.2" />
<path d="M624.2 515.7L632.5 515.7" fill="none" stroke="#000" stroke-width="1.5" />
<path d="M632.5 515.7C632.75 516.75 633.37 519.98 634 522C634.63 524.02 635.92 526.83 636.3 527.8" fill="none" stroke="#000" stroke-width="1.5" />
<path d="M636.3 500C636.42 502.5 636.22 510.5 637 515C637.78 519.5 639.33 523.67 641 527C642.67 530.33 644.67 532.67 647 535C649.33 537.33 653.67 540 655 541" fill="none" stroke="#000" stroke-width="1.5" />
<path d="M638.6 505C638.75 506.83 638.68 512.5 639.5 516C640.32 519.5 641.75 523 643.5 526C645.25 529 648.92 532.67 650 534" fill="none" stroke="#000" stroke-width="1.2" />
<path d="M638 510L645.5 510" fill="none" stroke="#000" stroke-width="1.05" />
<path d="M639 519.5L647 519.5" fill="none" stroke="#000" stroke-width="1.05" />
<path d="M641.5 526.5L649.5 526.5" fill="none" stroke="#000" stroke-width="1.05" />
<rect x="604.3" y="483.3" width="8.6" height="15.8" rx="0" fill="none" stroke="#000" stroke-width="1.35"/>
<path d="M604.3 487.3L612.9 487.3" fill="none" stroke="#000" stroke-width="1.05" />
<path d="M604.3 495.1L612.9 495.1" fill="none" stroke="#000" stroke-width="1.05" />
<path d="M612.9 486L615.9 486" fill="none" stroke="#000" stroke-width="1.05" />
<path d="M612.9 496.4L615.9 496.4" fill="none" stroke="#000" stroke-width="1.05" />
<path d="M102.5 155.5L500 155.5" fill="none" stroke="#1a1a1a" stroke-width="1" />
<path d="M179.5 54.5L179.5 559.3" fill="none" stroke="#1a1a1a" stroke-width="1" />
<path d="M193.75 100.75L193.75 199.6" fill="none" stroke="#1a1a1a" stroke-width="1" />
<path d="M367.8 54.5L367.8 152.6" fill="none" stroke="#1a1a1a" stroke-width="1.5" />
<path d="M367.8 158.6L367.8 640" fill="none" stroke="#1a1a1a" stroke-width="1" />
<path d="M420.3 100.75L420.3 348.2" fill="none" stroke="#1a1a1a" stroke-width="1" />
<path d="M179.5 54.5L367.8 54.5" fill="none" stroke="#1a1a1a" stroke-width="1" />
<path d="M179.5 54.5L212.1 49.05L212.1 59.95Z" fill="#000"/>
<path d="M367.8 54.5L335.2 59.95L335.2 49.05Z" fill="#000"/>
<path d="M193.75 100.75L367.8 100.75" fill="none" stroke="#1a1a1a" stroke-width="1" />
<path d="M193.75 100.75L226.35 95.3L226.35 106.2Z" fill="#000"/>
<path d="M367.8 100.75L335.2 106.2L335.2 95.3Z" fill="#000"/>
<path d="M420.3 100.75L485.3 100.75" fill="none" stroke="#1a1a1a" stroke-width="1" />
<path d="M420.3 100.75L452.9 95.3L452.9 106.2Z" fill="#000"/>
<path d="M102.5 155.5L102.5 562.3" fill="none" stroke="#1a1a1a" stroke-width="1" />
<path d="M102.5 155.5L107.95 188.1L97.05 188.1Z" fill="#000"/>
<path d="M102.5 562.3L97.05 529.7L107.95 529.7Z" fill="#000"/>
<path d="M102.5 562.3L176.3 562.3" fill="none" stroke="#1a1a1a" stroke-width="1" />
<path d="M456 155.5L456 351.3" fill="none" stroke="#1a1a1a" stroke-width="1" />
<path d="M456 155.5L461.45 188.1L450.55 188.1Z" fill="#000"/>
<path d="M456 351.3L450.55 318.7L461.45 318.7Z" fill="#000"/>
<path d="M423.2 351.3L456 351.3" fill="none" stroke="#1a1a1a" stroke-width="1" />
<path d="M500 155.5L500 525.6" fill="none" stroke="#1a1a1a" stroke-width="1" />
<path d="M500 155.5L505.45 188.1L494.55 188.1Z" fill="#000"/>
<path d="M500 525.6L494.55 493L505.45 493Z" fill="#000"/>
<path d="M339.2 525.7L500 525.7" fill="none" stroke="#1a1a1a" stroke-width="1" />
<path d="M336.2 528.7L336.2 640" fill="none" stroke="#1a1a1a" stroke-width="1" />
<path d="M237.3 640L336.2 640" fill="none" stroke="#1a1a1a" stroke-width="1" />
<path d="M336.2 640L303.6 645.45L303.6 634.55Z" fill="#000"/>
<path d="M367.8 640L433 640" fill="none" stroke="#1a1a1a" stroke-width="1" />
<path d="M367.8 640L400.4 634.55L400.4 645.45Z" fill="#000"/>
<path d="M591.75 120.25L591.75 330" fill="none" stroke="#1a1a1a" stroke-width="1" />
<path d="M818.6 120.25L818.6 212" fill="none" stroke="#1a1a1a" stroke-width="1" />
<path d="M591.75 120.25L818.6 120.25" fill="none" stroke="#1a1a1a" stroke-width="1" />
<path d="M591.75 120.25L624.35 114.8L624.35 125.7Z" fill="#000"/>
<path d="M818.6 120.25L786 125.7L786 114.8Z" fill="#000"/>
<text x="251.9" y="45.8" font-size="32" letter-spacing="0" text-anchor="start">2</text>
<text x="269.7" y="45.8" font-size="32" letter-spacing="0" text-anchor="start">3</text>
<text x="287.49" y="45.8" font-size="32" letter-spacing="0" text-anchor="start">8</text>
<text x="257.6" y="93" font-size="32" letter-spacing="0" text-anchor="start">2</text>
<text x="275.4" y="93" font-size="32" letter-spacing="0" text-anchor="start">2</text>
<text x="293.19" y="93" font-size="32" letter-spacing="0" text-anchor="start">0</text>
<text x="378.4" y="111.8" font-size="32" letter-spacing="0" text-anchor="start">6</text>
<text x="396.2" y="111.8" font-size="32" letter-spacing="0" text-anchor="start">6</text>
<text x="244.6" y="631.3" font-size="32" letter-spacing="0" text-anchor="start">4</text>
<text x="262.4" y="631.3" font-size="32" letter-spacing="0" text-anchor="start">0</text>
<text x="452.3" y="294.9" font-size="32" letter-spacing="0" text-anchor="start" transform="rotate(-90 452.3 294.9)">2</text>
<text x="452.3" y="277.1" font-size="32" letter-spacing="0" text-anchor="start" transform="rotate(-90 452.3 277.1)">4</text>
<text x="452.3" y="259.31" font-size="32" letter-spacing="0" text-anchor="start" transform="rotate(-90 452.3 259.31)">5</text>
<text x="492" y="389.6" font-size="32" letter-spacing="0" text-anchor="start" transform="rotate(-90 492 389.6)">4</text>
<text x="492" y="371.8" font-size="32" letter-spacing="0" text-anchor="start" transform="rotate(-90 492 371.8)">6</text>
<text x="492" y="354.01" font-size="32" letter-spacing="0" text-anchor="start" transform="rotate(-90 492 354.01)">4</text>
<text x="680.4" y="111.75" font-size="32" letter-spacing="0" text-anchor="start">2</text>
<path d="M708.41 111.75L705.67 111.75L705.67 94.32Q704.68 95.26 703.08 96.2Q701.48 97.14 700.2 97.61L700.2 94.97Q702.5 93.89 704.21 92.35Q705.93 90.82 706.64 89.38L708.41 89.38Z" fill="#000"/>
<text x="709.5" y="111.75" font-size="32" letter-spacing="0" text-anchor="start">6</text>
<text x="725.3" y="111.75" font-size="32" letter-spacing="0" text-anchor="start">.</text>
<text x="731.6" y="111.75" font-size="32" letter-spacing="0" text-anchor="start">7</text>
<text x="94.6" y="373.1" font-size="32" letter-spacing="0" text-anchor="start" transform="rotate(-90 94.6 373.1)">5</text>
<path d="M94.6 348.49L94.6 351.23L77.17 351.23Q78.11 352.22 79.05 353.82Q79.99 355.42 80.46 356.7L77.82 356.7Q76.74 354.4 75.2 352.69Q73.67 350.97 72.23 350.26L72.23 348.49Z" fill="#000"/>
<text x="94.6" y="344.7" font-size="32" letter-spacing="0" text-anchor="start" transform="rotate(-90 94.6 344.7)">0</text>
</svg>
</body></html>
